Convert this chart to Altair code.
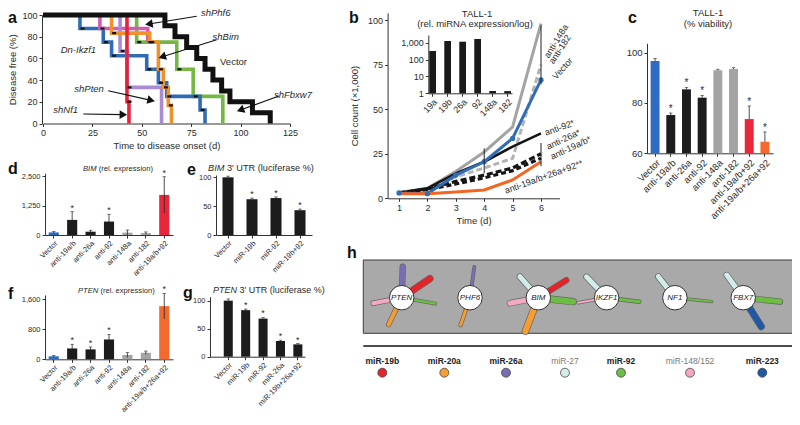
import math
import altair as alt
import pandas as pd

W, H = 784, 409
FONT = "Liberation Sans"
INK = "#2a2a2a"

# ---------------- panel a : Kaplan-Meier curves (day, % disease free) ----------------
a_fbxw7_days = [0, 47.4, 67.7, 76, 91]
a_fbxw7_pct = [100, 75, 50, 25, 0]
a_ikzf1_days = [0, 18.7, 30.5, 34.7, 52.5, 58.4, 62.6, 79.5, 82]
a_ikzf1_pct = [100, 87.5, 75, 62.5, 50, 37.5, 25, 12.5, 0]
a_phf6_days = [0, 28.8, 53]
a_phf6_pct = [100, 87.5, 75]
a_pten_days = [0, 39, 42.5, 60]
a_pten_pct = [100, 66.7, 33.3, 0]
a_bim_days = [0, 34.7, 54, 58.4, 60.9, 63.4, 65]
a_bim_pct = [100, 83.3, 75, 50, 33.3, 16.7, 0]
a_nf1_days = [0, 42.5, 43.5]
a_nf1_pct = [100, 20, 0]
a_vector_days = [0, 61.7, 66.8, 72.7, 77.8, 82, 86, 90.4, 94.6, 106, 115]
a_vector_pct = [100, 90, 80, 70, 60, 50, 40, 30, 20, 10, 0]

a_curve_names = ["shFbxw7", "Dn-Ikzf1", "shPhf6", "shPten", "shBim", "shNf1", "Vector"]
a_curve_days = [a_fbxw7_days, a_ikzf1_days, a_phf6_days, a_pten_days, a_bim_days, a_nf1_days, a_vector_days]
a_curve_pct = [a_fbxw7_pct, a_ikzf1_pct, a_phf6_pct, a_pten_pct, a_bim_pct, a_nf1_pct, a_vector_pct]
a_curve_colors = ["#74b843", "#2f6cb5", "#d65aae", "#a88bd2", "#f0922b", "#e8223b", "#111111"]
a_curve_widths = [3.6, 3.6, 3.6, 3.6, 3.6, 3.6, 5.0]

a_label_text = ["shPhf6", "shBim", "Dn-Ikzf1", "shPten", "shNf1", "shFbxw7"]
a_label_day = [87.4, 92.5, 17.9, 23.3, 11.5, 126.5]
a_label_pct = [101.6, 80, 67.7, 31.5, 12.0, 26.3]
a_vector_label = ("Vector", 89.6, 56.9)
a_arrow_from_day = [77.8, 87.9, 33.0, 20.4, 119.4]
a_arrow_from_pct = [98.8, 77.2, 30.2, 8.8, 25.3]
a_arrow_to_day = [51.6, 58.4, 56.7, 42.7, 98.0]
a_arrow_to_pct = [91.1, 60.4, 20.5, 8.1, 11.2]

# ---------------- panel b : growth curves ----------------
b_days = [1, 2, 3, 4, 5, 6]
b_anti148a = [3.3, 5.6, 15, 26, 40, 98]
b_anti182 = [3.0, 5.5, 12, 17, 22.4, 75]
b_vector = [3.0, 2.6, 13, 20.5, 33.6, 66.4]
b_anti92 = [3.0, 5.6, 14, 20.5, 29, 36.4]
b_anti26a = [3.0, 5.2, 9.5, 13, 17, 25]
b_anti19ab = [3.0, 4.8, 8, 11.5, 15.5, 22.5]
b_combo = [2.6, 2.6, 3.5, 4.7, 10.3, 20.5]
b_err_day = [6, 6, 4]
b_err_lo = [64, 18, 14]
b_err_hi = [97, 31, 28]
b_lab_text = ["anti-148a", "anti-182", "Vector", "anti-92*", "anti-26a*", "anti-19a/b*", "anti-19a/b+26a+92**"]
b_lab_x = [6.18, 6.35, 6.46, 6.14, 6.21, 6.35, 4.73]
b_lab_y = [79.2, 75.9, 67.5, 36.6, 28.8, 23.2, 4.1]
b_lab_angle = [302, 303, 312, 340, 335, 335, 340]

# inset (rel. miRNA expression, log)
i_cats = ["19a", "19b", "26a", "92", "148a", "182"]
i_vals = [320, 1240, 1130, 1630, 1.37, 1.35]

# ---------------- panel c : viability ----------------
c_cats = ["Vector", "anti-19a/b", "anti-26a", "anti-92", "anti-148a", "anti-182", "anti-19a/b+92", "anti-19a/b+26a+92"]
c_vals = [96.7, 75.2, 85.4, 82.1, 93.0, 93.5, 73.6, 64.6]
c_err = [1.0, 0.8, 0.8, 0.9, 0.4, 0.5, 5.2, 3.9]
c_star = [False, True, True, True, False, False, True, True]

# ---------------- panel d : BIM rel. expression ----------------
d_cats = ["Vector", "anti-19a/b", "anti-26a", "anti-92", "anti-148a", "anti-182", "anti-19a/b+92"]
d_vals = [110, 640, 140, 570, 100, 80, 1700]
d_err = [40, 350, 60, 310, 110, 50, 770]
d_star = [False, True, False, True, False, False, True]

# ---------------- panel e : BIM 3' UTR ----------------
e_cats = ["Vector", "miR-19b", "miR-92", "miR-19b+92"]
e_vals = [100, 62, 64, 43]
e_err = [2, 2, 2, 2]
e_star = [False, True, True, True]

# ---------------- panel f : PTEN rel. expression ----------------
f_cats = ["Vector", "anti-19a/b", "anti-26a", "anti-92", "anti-148a", "anti-182", "anti-19a/b+26a+92"]
f_vals = [80, 290, 265, 530, 115, 175, 1420]
f_err = [20, 110, 65, 135, 65, 45, 340]
f_star = [False, True, True, True, False, False, True]

# ---------------- panel g : PTEN 3' UTR ----------------
g_cats = ["Vector", "miR-19b", "miR-92", "miR-26a", "miR-19b+26a+92"]
g_vals = [100, 83, 68, 28, 22]
g_err = [3, 2, 2, 1.5, 1.5]
g_star = [False, True, True, True, True]

# ---------------- panel h : target network ----------------
h_genes = ["PTEN", "PHF6", "BIM", "IKZF1", "NF1", "FBX7"]
mir_names = ["miR-19b", "miR-20a", "miR-26a", "miR-27", "miR-92", "miR-148/152", "miR-223"]
mir_colors = ["#e3242b", "#f59d32", "#7a6db3", "#d3ecea", "#6dbd45", "#f3a9c3", "#1f58a6"]
mir_bold = [True, True, True, False, True, False, True]
# petals: gene index, miRNA, angle (deg), length (px), width (px)
h_pet_gene = [0, 0, 0, 0, 0, 1, 1, 2, 2, 2, 2, 2, 3, 3, 3, 4, 4, 5, 5, 5]
h_pet_mir = ["miR-26a", "miR-19b", "miR-92", "miR-148/152", "miR-20a",
             "miR-26a", "miR-20a",
             "miR-27", "miR-19b", "miR-92", "miR-148/152", "miR-20a",
             "miR-27", "miR-92", "miR-148/152",
             "miR-27", "miR-92",
             "miR-27", "miR-92", "miR-223"]
h_pet_angle = [88, 34, -10, 191, 244, 82, 251, 131, 32, -6.5, 191, 249, 134, -7, 190, 128, -6, 126, -6, 302]
h_pet_len = [31, 34, 34, 29, 30, 31, 29, 28, 33, 35, 29, 36, 29, 33, 29, 27, 37, 28, 37, 34]
h_pet_width = [5, 6, 2.5, 4, 4, 2.5, 3, 5, 5, 6, 5, 6, 5, 3, 2, 5, 2, 5, 5, 6]

# ---------------- layout helpers (image px -> view px) ----------------
def P(v):
    return v - 8


def lin(d0, d1, r0, r1, typ="linear"):
    kw = dict(type=typ, domain=[d0, d1], range=[P(r0), P(r1)], nice=False)
    if typ == "linear":
        kw["zero"] = False
    return alt.Scale(**kw)


def band(cats, r0, r1, pi, po, align=0.5):
    return alt.Scale(type="band", domain=cats, range=[P(r0), P(r1)], paddingInner=pi,
                     paddingOuter=po, align=align)


def xax(Yimg, fs, **kw):
    return alt.Axis(orient="bottom", offset=P(Yimg) - H, labelFontSize=fs, **kw)


def yax(Ximg, fs, **kw):
    return alt.Axis(orient="left", offset=-P(Ximg), labelFontSize=fs, **kw)


layers = []

# ======================= panel a =======================
xa = lin(0, 125, 43, 290)
ya = lin(0, 100, 123.5, 15)
first = True
for name, dd, pp, col, wd in zip(a_curve_names, a_curve_days, a_curve_pct, a_curve_colors, a_curve_widths):
    df = pd.DataFrame({"day": dd, "pct": pp})
    if first:
        xe = alt.X("day:Q", scale=xa, axis=xax(123.5, 9, values=[0, 25, 50, 75, 100, 125],
                                                   title="Time to disease onset (d)", titleFontSize=9.5,
                                                   titlePadding=3))
        ye = alt.Y("pct:Q", scale=ya, axis=yax(42, 9, values=[0, 20, 40, 60, 80, 100],
                                               title="Disease free (%)", titleFontSize=9.5, titlePadding=4))
        first = False
    else:
        xe = alt.X("day:Q", scale=xa, axis=None)
        ye = alt.Y("pct:Q", scale=ya, axis=None)
    layers.append(alt.Chart(df).mark_line(interpolate="step-after", color=col, strokeWidth=wd,
                                          strokeJoin="miter").encode(x=xe, y=ye))

# censor ticks
tk_d, tk_p = [], []
for dd, pp in zip(a_curve_days, a_curve_pct):
    for i in range(1, len(dd)):
        if pp[i] > 0:
            tk_d.append(dd[i] + 1.3)
            tk_p.append(pp[i])
layers.append(alt.Chart(pd.DataFrame({"day": tk_d, "pct": tk_p})).mark_point(
    shape="stroke", size=16, strokeWidth=2.2, color="#111", opacity=1).encode(
    x=alt.X("day:Q", scale=xa, axis=None), y=alt.Y("pct:Q", scale=ya, axis=None)))

# labels
layers.append(alt.Chart(pd.DataFrame({"day": a_label_day, "pct": a_label_pct, "t": a_label_text})).mark_text(
    fontStyle="italic", fontSize=9.5, color=INK).encode(
    x=alt.X("day:Q", scale=xa, axis=None), y=alt.Y("pct:Q", scale=ya, axis=None), text="t:N"))
layers.append(alt.Chart(pd.DataFrame({"day": [a_vector_label[1]], "pct": [a_vector_label[2]],
                                      "t": [a_vector_label[0]]})).mark_text(
    fontSize=9.5, color=INK, align="left").encode(
    x=alt.X("day:Q", scale=xa, axis=None), y=alt.Y("pct:Q", scale=ya, axis=None), text="t:N"))

# arrows
PXD = (290 - 43) / 125.0
PXP = (123.5 - 15) / 100.0
ar_rows = []
head_rows = []
for d0, p0, d1, p1 in zip(a_arrow_from_day, a_arrow_from_pct, a_arrow_to_day, a_arrow_to_pct):
    dx = (d1 - d0) * PXD
    dy = -(p1 - p0) * PXP
    L = math.hypot(dx, dy)
    ux, uy = dx / L, dy / L
    back = 4.0
    hd = d1 - ux * back / PXD
    hp = p1 + uy * back / PXP
    ang = (math.degrees(math.atan2(dx, -dy)) + 360) % 360
    ar_rows.append({"d0": d0, "p0": p0, "d1": hd, "p1": hp})
    head_rows.append({"d": hd, "p": hp, "ang": ang})
layers.append(alt.Chart(pd.DataFrame(ar_rows)).mark_rule(color="#111", strokeWidth=1.1).encode(
    x=alt.X("d0:Q", scale=xa, axis=None), y=alt.Y("p0:Q", scale=ya, axis=None), x2="d1:Q", y2="p1:Q"))
layers.append(alt.Chart(pd.DataFrame(head_rows)).mark_point(
    shape="triangle-up", size=75, filled=True, color="#111", opacity=1).encode(
    x=alt.X("d:Q", scale=xa, axis=None), y=alt.Y("p:Q", scale=ya, axis=None),
    angle=alt.Angle("ang:Q", scale=None)))

# ======================= panel b =======================
xb = lin(0.6, 6.65, 399 - 0.4 * 28.4, 541 + 0.65 * 28.4)
yb = lin(0, 104, 198.3, 198.3 - 104 * 1.783)
b_series = [
    (b_anti182, "#b3b3b3", 3.0, [6, 3]),
    (b_anti148a, "#a3a3a3", 3.0, None),
    (b_anti19ab, "#151515", 3.2, [5, 3]),
    (b_anti26a, "#151515", 3.2, [6, 3]),
    (b_anti92, "#151515", 2.6, None),
    (b_vector, "#2f6db8", 3.0, None),
    (b_combo, "#f26522", 3.0, None),
]
first = True
for vals, col, wd, dash in b_series:
    df = pd.DataFrame({"t": b_days, "v": vals})
    if first:
        xe = alt.X("t:Q", scale=xb, axis=xax(198.3, 9, values=b_days, title="Time (d)",
                                             titleFontSize=9.5, titlePadding=3))
        ye = alt.Y("v:Q", scale=yb, axis=yax(387.6, 9, values=[0, 25, 50, 75, 100],
                                             title="Cell count (\u00d71,000)", titleFontSize=9.5,
                                             titlePadding=8))
        first = False
    else:
        xe = alt.X("t:Q", scale=xb, axis=None)
        ye = alt.Y("v:Q", scale=yb, axis=None)
    kw = dict(color=col, strokeWidth=wd)
    if dash:
        kw["strokeDash"] = dash
    layers.append(alt.Chart(df).mark_line(**kw).encode(x=xe, y=ye))
layers.append(alt.Chart(pd.DataFrame({"t": b_days, "v": b_vector})).mark_point(
    filled=True, size=28, color="#2f6db8", opacity=1).encode(
    x=alt.X("t:Q", scale=xb, axis=None), y=alt.Y("v:Q", scale=yb, axis=None)))
layers.append(alt.Chart(pd.DataFrame({"t": b_err_day, "lo": b_err_lo, "hi": b_err_hi})).mark_rule(
    color="#222", strokeWidth=1).encode(
    x=alt.X("t:Q", scale=xb, axis=None), y=alt.Y("lo:Q", scale=yb, axis=None), y2="hi:Q"))
layers.append(alt.Chart(pd.DataFrame({"x": b_lab_x, "y": b_lab_y, "t": b_lab_text, "a": b_lab_angle})).mark_text(
    align="left", baseline="middle", fontSize=9, color=INK).encode(
    x=alt.X("x:Q", scale=xb, axis=None), y=alt.Y("y:Q", scale=yb, axis=None), text="t:N",
    angle=alt.Angle("a:Q", scale=None)))

# inset
xi = band(i_cats, 428.3, 512, 0.55, 0.065)
yi = lin(1, 2818, 93.3, 35, typ="log")
layers.append(alt.Chart(pd.DataFrame({"c": i_cats, "v": i_vals, "b": [1] * len(i_cats)})).mark_bar(
    color="#1a1a1a").encode(
    x=alt.X("c:N", scale=xi, sort=None, axis=xax(93.3, 9, title=None, labelAngle=315, labelAlign="right",
                                                 labelBaseline="top", labelPadding=1)),
    y=alt.Y("v:Q", scale=yi, axis=yax(428.3, 9, values=[1, 10, 100, 1000], format=",.0f", title=None)),
    y2="b:Q"))


# ======================= bar panels c-g =======================
def bar_panel(cats, vals, lo, hi, colors, stars, xs, ys, xaxis, yaxis, base, star_size=9):
    df = pd.DataFrame({"cat": cats, "val": vals, "lo": lo, "hi": hi, "col": colors,
                       "base": [base] * len(cats), "star": ["*" if s else "" for s in stars]})
    Xn = alt.X("cat:N", scale=xs, sort=None, axis=None)
    out = [
        alt.Chart(df).mark_bar().encode(
            x=alt.X("cat:N", scale=xs, sort=None, axis=xaxis),
            y=alt.Y("val:Q", scale=ys, axis=yaxis), y2="base:Q",
            color=alt.Color("col:N", scale=None)),
        alt.Chart(df).mark_rule(color="#222", strokeWidth=0.8).encode(
            x=Xn, y=alt.Y("lo:Q", scale=ys, axis=None), y2="hi:Q"),
        alt.Chart(df).mark_tick(color="#222", thickness=0.8, size=3.5, orient="horizontal").encode(
            x=Xn, y=alt.Y("hi:Q", scale=ys, axis=None)),
        alt.Chart(df).mark_text(dy=-4, fontSize=star_size, color=INK).encode(
            x=Xn, y=alt.Y("hi:Q", scale=ys, axis=None), text="star:N"),
    ]
    return out


BLUE, BLACK, GRAY, RED, ORANGE = "#2d6cc0", "#1c1c1c", "#a4a4a6", "#e8283a", "#f26a2e"
LAB = dict(labelAngle=315, labelAlign="right", labelBaseline="top", labelPadding=1, title=None)

# c
xc = band(c_cats, 647, 773, 0.43, 0.23)
yc = lin(60, 103.7, 153.3, 43.3)
layers += bar_panel(c_cats, c_vals, c_vals, [v + e for v, e in zip(c_vals, c_err)],
                    [BLUE, BLACK, BLACK, BLACK, GRAY, GRAY, RED, ORANGE], c_star, xc, yc,
                    xax(153.3, 9.5, **LAB), yax(647, 9.5, values=[60, 80, 100], title=None), 60, 10)

# d
xd = band(d_cats, 45, 173, 0.45, 0.2)
yd = lin(0, 2616, 235, 173.3)
layers += bar_panel(d_cats, d_vals, [max(v - e, 0) for v, e in zip(d_vals, d_err)],
                    [v + e for v, e in zip(d_vals, d_err)],
                    [BLUE, BLACK, BLACK, BLACK, GRAY, GRAY, RED], d_star, xd, yd,
                    xax(235, 7.5, **LAB), yax(45, 7.5, values=[0, 1250, 2500], format=",.0f", title=None), 0)

# e
xe_ = band(e_cats, 216, 312, 0.54, 0.27)
ye_ = lin(0, 104, 235, 175)
layers += bar_panel(e_cats, e_vals, e_vals, [v + e for v, e in zip(e_vals, e_err)],
                    [BLACK] * 4, e_star, xe_, ye_,
                    xax(235, 7.5, **LAB), yax(216, 7.5, values=[0, 50, 100], format=".0f", title=None), 0)

# f
xf = band(f_cats, 45, 173, 0.45, 0.2)
yf = lin(0, 1718, 359.3, 295)
layers += bar_panel(f_cats, f_vals, [max(v - e, 0) for v, e in zip(f_vals, f_err)],
                    [v + e for v, e in zip(f_vals, f_err)],
                    [BLUE, BLACK, BLACK, BLACK, GRAY, GRAY, ORANGE], f_star, xf, yf,
                    xax(359.3, 7.5, **LAB), yax(45, 7.5, values=[0, 800, 1600], format=",.0f", title=None), 0)

# g
xg = band(g_cats, 210, 305, 0.48, 0.47, align=0.84)
yg = lin(0, 107, 356.7, 296.7)
layers += bar_panel(g_cats, g_vals, g_vals, [v + e for v, e in zip(g_vals, g_err)],
                    [BLACK] * 5, g_star, xg, yg,
                    xax(356.7, 7.5, **LAB), yax(210, 7.5, values=[0, 50, 100], format=".0f", title=None), 0)

# ======================= panel h =======================
HX0, HSTEP, HY0 = 401.7, 68.3, 297.7
hx_lo = (363.3 - HX0) / HSTEP
hx_hi = (795 - HX0) / HSTEP
hy_lo, hy_hi = -1.2, (HY0 - 260) / HSTEP
xh = lin(hx_lo, hx_hi, 363.3, 795)
yh = lin(hy_lo, hy_hi, HY0 - hy_lo * HSTEP, 260)
box_y0 = -(333.3 - HY0) / HSTEP
sep_y = -(346 - HY0) / HSTEP
leg_lab_y = -(360.7 - HY0) / HSTEP
leg_dot_y = -(372.7 - HY0) / HSTEP
leg_x = [(v - HX0) / HSTEP for v in [382.3, 444.3, 506, 565, 621, 690, 762.3]]


def hX(f):
    return alt.X(f + ":Q", scale=xh, axis=None)


def hY(f):
    return alt.Y(f + ":Q", scale=yh, axis=None)


layers.append(alt.Chart(pd.DataFrame({"x0": [hx_lo], "x1": [hx_hi], "y0": [box_y0], "y1": [hy_hi]})).mark_rect(
    fill="#a9a9a9", stroke="#3c3c3c", strokeWidth=1).encode(x=hX("x0"), x2="x1:Q", y=hY("y0"), y2="y1:Q"))

col_of = dict(zip(mir_names, mir_colors))
pet = []
for gi, m, a, L, w in zip(h_pet_gene, h_pet_mir, h_pet_angle, h_pet_len, h_pet_width):
    r = L / HSTEP
    pet.append({"x0": gi, "y0": 0.0, "x1": gi + r * math.cos(math.radians(a)),
                "y1": r * math.sin(math.radians(a)), "col": col_of[m], "w": w, "wo": w + 1.4})
pdf = pd.DataFrame(pet)
layers.append(alt.Chart(pdf).mark_rule(strokeCap="round", color="#555", opacity=0.8).encode(
    x=hX("x0"), y=hY("y0"), x2="x1:Q", y2="y1:Q", strokeWidth=alt.StrokeWidth("wo:Q", scale=None)))
layers.append(alt.Chart(pdf).mark_rule(strokeCap="round").encode(
    x=hX("x0"), y=hY("y0"), x2="x1:Q", y2="y1:Q", color=alt.Color("col:N", scale=None),
    strokeWidth=alt.StrokeWidth("w:Q", scale=None)))
gdf = pd.DataFrame({"x": list(range(len(h_genes))), "y": [0.0] * len(h_genes), "g": h_genes})
layers.append(alt.Chart(gdf).mark_point(shape="circle", filled=True, fill="white", stroke="#333",
                                        strokeWidth=1, size=600, opacity=1).encode(x=hX("x"), y=hY("y")))
layers.append(alt.Chart(gdf).mark_text(fontStyle="italic", fontSize=8, color="#222").encode(
    x=hX("x"), y=hY("y"), text="g:N"))

layers.append(alt.Chart(pd.DataFrame({"x0": [hx_lo], "x1": [hx_hi], "y": [sep_y]})).mark_rule(
    color="#111", strokeWidth=1.3).encode(x=hX("x0"), x2="x1:Q", y=hY("y")))
ldf = pd.DataFrame({"x": leg_x, "yl": [leg_lab_y] * 7, "yd": [leg_dot_y] * 7, "m": mir_names,
                    "col": mir_colors, "b": mir_bold})
layers.append(alt.Chart(ldf[ldf.b]).mark_text(fontWeight="bold", fontSize=8.5, color="#222").encode(
    x=hX("x"), y=hY("yl"), text="m:N"))
layers.append(alt.Chart(ldf[~ldf.b]).mark_text(fontSize=8.5, color="#777").encode(
    x=hX("x"), y=hY("yl"), text="m:N"))
layers.append(alt.Chart(ldf).mark_point(shape="circle", filled=True, size=80, stroke="#444",
                                        strokeWidth=0.8, opacity=1).encode(
    x=hX("x"), y=hY("yd"), fill=alt.Fill("col:N", scale=None)))

# ======================= panel letters & titles (page layout) =======================
let_df = pd.DataFrame({"t": list("abcdefgh"),
                       "x": [P(v) for v in [8, 349, 628, 8, 187, 8, 183, 347]],
                       "y": [P(v) for v in [23, 23, 23, 174, 175, 299, 298, 258]]})
layers.append(alt.Chart(let_df).mark_text(fontWeight="bold", fontSize=16, align="left",
                                          baseline="alphabetic", color="#111").encode(
    x=alt.X("x:Q", scale=None), y=alt.Y("y:Q", scale=None), text="t:N"))

tit_df = pd.DataFrame({"t": ["TALL-1", "(rel. miRNA expression/log)", "TALL-1", "(% viability)"],
                       "x": [P(v) for v in [477, 475, 708, 708]],
                       "y": [P(v) for v in [17, 27, 16, 27]]})
layers.append(alt.Chart(tit_df).mark_text(fontSize=9.5, align="center", baseline="alphabetic",
                                          color=INK).encode(
    x=alt.X("x:Q", scale=None), y=alt.Y("y:Q", scale=None), text="t:N"))

# panel subtitles: italic gene name + plain remainder (d, e, f, g)
sub_it_text = ["BIM", "BIM", "PTEN", "PTEN"]
sub_n_text = ["(rel. expression)", "3\u2032 UTR (luciferase %)", "(rel. expression)", "3\u2032 UTR (luciferase %)"]
sub_x = [83, 208, 78, 213]
sub_y = [171, 171, 293, 293]
sub_fs = [7.6, 9.2, 7.6, 9.0]
sub_itw = [17.8, 17.8, 26.67, 26.67]  # width of italic word at 10px
for t_i, t_n, x0, y0, fs, wi in zip(sub_it_text, sub_n_text, sub_x, sub_y, sub_fs, sub_itw):
    layers.append(alt.Chart(pd.DataFrame({"t": [t_i], "x": [P(x0)], "y": [P(y0)]})).mark_text(
        fontSize=fs, fontStyle="italic", align="left", baseline="alphabetic", color=INK).encode(
        x=alt.X("x:Q", scale=None), y=alt.Y("y:Q", scale=None), text="t:N"))
    layers.append(alt.Chart(pd.DataFrame({"t": [t_n], "x": [P(x0 + (wi + 2.78) * fs / 10.0)],
                                          "y": [P(y0)]})).mark_text(
        fontSize=fs, align="left", baseline="alphabetic", color=INK).encode(
        x=alt.X("x:Q", scale=None), y=alt.Y("y:Q", scale=None), text="t:N"))

chart = alt.layer(*layers).resolve_scale(x="independent", y="independent").properties(
    width=W, height=H, autosize=alt.AutoSizeParams(type="none"), padding=0
).configure_view(stroke=None).configure_axis(
    grid=False, labelFont=FONT, titleFont=FONT, labelColor=INK, titleColor=INK,
    domainColor="#333", tickColor="#333", tickSize=3, domainWidth=1, tickWidth=1,
    labelFlush=False, labelOverlap=False, titleFontWeight="normal", labelPadding=2
).configure_text(font=FONT)

chart.save("out.html", embed_options={"renderer": "svg", "actions": False})
